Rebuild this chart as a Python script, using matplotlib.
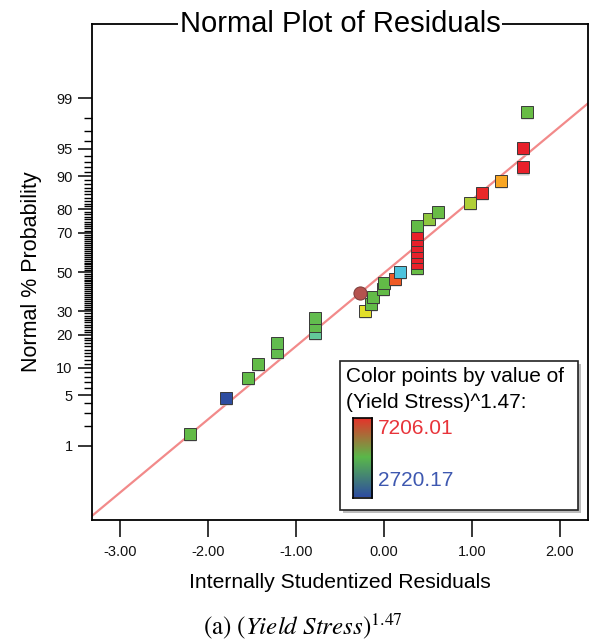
import numpy as np
import matplotlib
matplotlib.use("Agg")
import matplotlib.pyplot as plt
from matplotlib.colors import LinearSegmentedColormap, Normalize
from matplotlib.patches import Rectangle
from statistics import NormalDist

plt.rcParams['font.family'] = ['Liberation Sans', 'DejaVu Sans']
plt.rcParams['mathtext.fontset'] = 'stix'

# ---- data ----
residuals = [-2.20, -1.80, -1.55, -1.43, -1.22, -1.22, -0.78, -0.78, -0.78,
             -0.22, -0.15, -0.12, -0.01, 0.00, 0.13, 0.18,
             0.375, 0.375, 0.375, 0.375, 0.375, 0.375, 0.375, 0.375,
             0.51, 0.62, 0.98, 1.11, 1.33, 1.58, 1.58, 1.63]
probabilities = [1.5, 4.6, 7.8, 11.0, 14.2, 17.2, 20.6, 23.5, 27.0,
                 30.0, 33.5, 37.0, 41.0, 44.0, 46.4, 50.0,
                 52.0, 54.6, 57.8, 60.7, 63.7, 66.6, 69.3, 73.2,
                 76.0, 79.0, 82.3, 85.5, 88.8, 91.9, 95.2, 98.4]
response = [4963, 2720, 4963, 4963, 4900, 4900, 4290, 4900, 4900,
            5860, 4963, 4963, 4963, 4963, 6850, 3620,
            5000, 7206, 7206, 7206, 7206, 7206, 7206, 4963,
            5300, 5000, 5550, 7150, 6400, 7206, 7206, 5000]
highlight_residual = -0.27
highlight_probability = 39.0

fit_slope = 0.978
fit_intercept = -0.014

resp_min, resp_max = 2720.17, 7206.01
major_ticks = [1, 5, 10, 20, 30, 50, 70, 80, 90, 95, 99]
minor_ticks = list(range(1, 100))
x_ticks = [-3, -2, -1, 0, 1, 2]

nd = NormalDist()
def z(p):
    return nd.inv_cdf(p / 100.0)

# ---- figure ----
W, H = 590, 642
fig = plt.figure(figsize=(W / 100, H / 100), dpi=100)
L, R, T, B = 92, 588, 24, 520
ax = fig.add_axes([L / W, 1 - B / H, (R - L) / W, (B - T) / H])

cmap = LinearSegmentedColormap.from_list('de', [
    (0.0, '#2E4DA0'), (0.2, '#4DC3DD'), (0.35, '#62C89A'), (0.5, '#62BB46'),
    (0.62, '#A8CC3A'), (0.7, '#E2DF2A'), (0.82, '#F7A823'), (0.92, '#EF5B25'),
    (1.0, '#E8202A')])
norm = Normalize(resp_min, resp_max)

xlim = (-3.32, 2.32)
ax.set_xlim(*xlim)
ax.set_ylim(-3.316, 3.316)

xs = np.array(xlim)
ax.plot(xs, fit_slope * xs + fit_intercept, color='#F28A8A', lw=1.6, zorder=2)

zs = [z(p) for p in probabilities]
for xr, zz, v in zip(residuals, zs, response):
    ax.plot(xr, zz - 0.015, marker='s', ms=9.0, color='#c8c8c8', mec='none', zorder=3)
    ax.plot(xr, zz, marker='s', ms=8.0, color=cmap(norm(v)), mec='#3a3a3a',
            mew=0.7, zorder=4)
ax.plot(highlight_residual, z(highlight_probability), marker='o', ms=9.5,
        color='#B5524E', mec='#7a3a38', mew=0.7, zorder=4)

# ticks
ax.set_xticks(x_ticks)
ax.set_xticklabels([f'{t:.2f}' for t in x_ticks], fontsize=10.5, color='#111')
ax.set_yticks([z(p) for p in major_ticks])
ax.set_yticklabels([str(p) for p in major_ticks], fontsize=10.5, color='#111')
ax.set_yticks([z(p) for p in minor_ticks if p not in major_ticks], minor=True)
ax.tick_params(axis='x', direction='out', length=12, width=1.1, pad=6)
ax.tick_params(axis='y', which='major', direction='out', length=10, width=1.1, pad=4)
ax.tick_params(axis='y', which='minor', direction='out', length=6, width=1.0)
for s in ax.spines.values():
    s.set_linewidth(1.3)

ax.set_xlabel('Internally Studentized Residuals', fontsize=15.2, labelpad=10)
ax.set_ylabel('Normal % Probability', fontsize=15.5, labelpad=10)

ax.text(0.5, 1.0, 'Normal Plot of Residuals', transform=ax.transAxes,
        ha='center', va='center', fontsize=21,
        bbox=dict(facecolor='white', edgecolor='none', pad=1.0), zorder=10)

# ---- legend box ----
def fx(px):
    return px / W
def fy(py):
    return 1 - py / H

fig.patches.append(Rectangle((fx(343), fy(513)), fx(581) - fx(343), fy(364) - fy(513),
                             transform=fig.transFigure, facecolor='#bdbdbd',
                             edgecolor='none', zorder=5))
fig.patches.append(Rectangle((fx(340), fy(510)), fx(578) - fx(340), fy(361) - fy(510),
                             transform=fig.transFigure, facecolor='white',
                             edgecolor='#222', lw=1.2, zorder=6))
fig.text(fx(346), fy(377), 'Color points by value of', fontsize=15,
         va='center', ha='left', zorder=7)
fig.text(fx(346), fy(403), '(Yield Stress)^1.47:', fontsize=15,
         va='center', ha='left', zorder=7)
cax = fig.add_axes([fx(352.5), fy(497.5), fx(372) - fx(352.5), fy(417.5) - fy(497.5)],
                   zorder=8)
grad = LinearSegmentedColormap.from_list('bar', ['#2E4DA0', '#5AB84A', '#E8302A'])
cax.imshow(np.linspace(0, 1, 200)[:, None], aspect='auto', cmap=grad, origin='lower')
cax.set_xticks([]); cax.set_yticks([])
for s in cax.spines.values():
    s.set_linewidth(1.2)
fig.text(fx(378), fy(429), f'{resp_max:.2f}', color='#E8343A', fontsize=15,
         va='center', ha='left', zorder=9)
fig.text(fx(378), fy(481), f'{resp_min:.2f}', color='#3E58B0', fontsize=15,
         va='center', ha='left', zorder=9)

fig.text(fx(303), fy(626), r'$\mathrm{(a)}\ (\mathit{Yield\ Stress})^{1.47}$',
         fontsize=18, ha='center', va='center')

fig.savefig('out.png', dpi=100)
